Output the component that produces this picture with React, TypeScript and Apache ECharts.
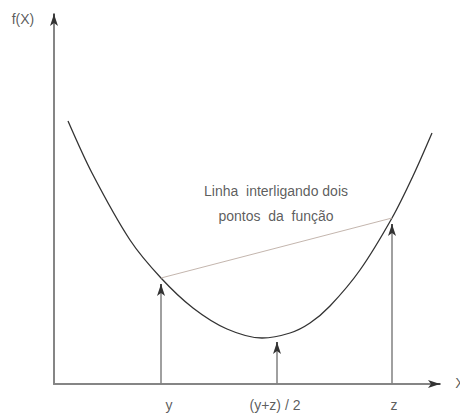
import React, { useEffect, useRef } from "react";
import * as echarts from "echarts";

// curve samples (data units)
const curveX = [14, 38, 76, 107, 139, 173, 208, 236, 256, 276, 306, 338, 359, 378];
const curveY = [263, 211, 144, 106, 76, 55, 46, 51, 61, 78, 114, 166, 208, 251];

// points on the function: y, (y+z)/2, z
const pointX = [107, 223, 338];
const pointY = [106, 48, 166];

// tick labels under the x axis
const tickLabels = ["y", "(y+z) / 2", "z"];
const tickLabelX = [115, 221, 340];

const noteText = "Linha  interligando dois\npontos  da  função";
const FONT = "'Liberation Sans Narrow', 'Arial Narrow', 'Liberation Sans', Arial, sans-serif";

const X_MAX = 386;
const Y_MAX = 370;

export default function App() {
  const ref = useRef<HTMLDivElement>(null);
  useEffect(() => {
    if (!ref.current) return;
    const chart = echarts.init(ref.current, undefined, { renderer: "svg" });

    const arrowLen = 6;
    const stems: any[] = [];
    const heads: any[] = [];
    pointX.forEach((x, i) => {
      const y = pointY[i];
      stems.push([{ coord: [x, 0] }, { coord: [x, y - arrowLen] }]);
      heads.push([{ coord: [x, y - arrowLen - 3] }, { coord: [x, y - arrowLen] }]);
    });
    // axis arrow heads
    heads.push([{ coord: [X_MAX - 3, 0] }, { coord: [X_MAX, 0] }]);
    heads.push([{ coord: [0, Y_MAX - 3] }, { coord: [0, Y_MAX] }]);

    const labelData: any[] = tickLabels.map((t, i) => ({ value: [tickLabelX[i], -21], name: t }));
    labelData.push({ value: [-31, 365], name: "f(X)" });
    labelData.push({ value: [406, 1], name: "X" });
    labelData.push({ value: [222, 181], name: noteText });

    chart.setOption({
      animation: false,
      backgroundColor: "#ffffff",
      grid: { left: 54, right: 20, top: 14, bottom: 34 },
      xAxis: {
        type: "value",
        min: 0,
        max: X_MAX,
        axisLine: { show: true, lineStyle: { color: "#858585", width: 2 } },
        axisTick: { show: false },
        axisLabel: { show: false },
        splitLine: { show: false },
      },
      yAxis: {
        type: "value",
        min: 0,
        max: Y_MAX,
        axisLine: { show: true, lineStyle: { color: "#858585", width: 2 } },
        axisTick: { show: false },
        axisLabel: { show: false },
        splitLine: { show: false },
      },
      series: [
        {
          type: "line",
          data: curveX.map((x, i) => [x, curveY[i]]),
          smooth: 0.3,
          showSymbol: false,
          lineStyle: { color: "#333333", width: 1.3 },
          clip: false,
        },
        {
          type: "line",
          data: [
            [pointX[0], pointY[0]],
            [pointX[2], pointY[2]],
          ],
          showSymbol: false,
          lineStyle: { color: "#c4b6ae", width: 1 },
        },
        {
          type: "line",
          data: [],
          clip: false,
          markLine: {
            silent: true,
            symbol: ["none", "none"],
            label: { show: false },
            lineStyle: { color: "#808080", width: 1.5, type: "solid" },
            data: stems,
          },
        },
        {
          type: "line",
          data: [],
          clip: false,
          markLine: {
            silent: true,
            symbol: ["none", "arrow"],
            symbolSize: [6, 12],
            label: { show: false },
            lineStyle: { color: "#333333", width: 1.5, type: "solid" },
            data: heads,
          },
        },
        {
          type: "scatter",
          data: labelData,
          symbolSize: 0,
          clip: false,
          silent: true,
          label: {
            show: true,
            position: "inside",
            formatter: (p: any) => p.name,
            color: "#333333",
            fontFamily: FONT,
            fontSize: 14,
            lineHeight: 25,
            align: "center",
            verticalAlign: "middle",
          },
        },
      ],
    });
    return () => chart.dispose();
  }, []);
  return (
    <div
      ref={ref}
      style={{ position: "fixed", left: 0, top: 0, width: 460, height: 418 }}
    />
  );
}
